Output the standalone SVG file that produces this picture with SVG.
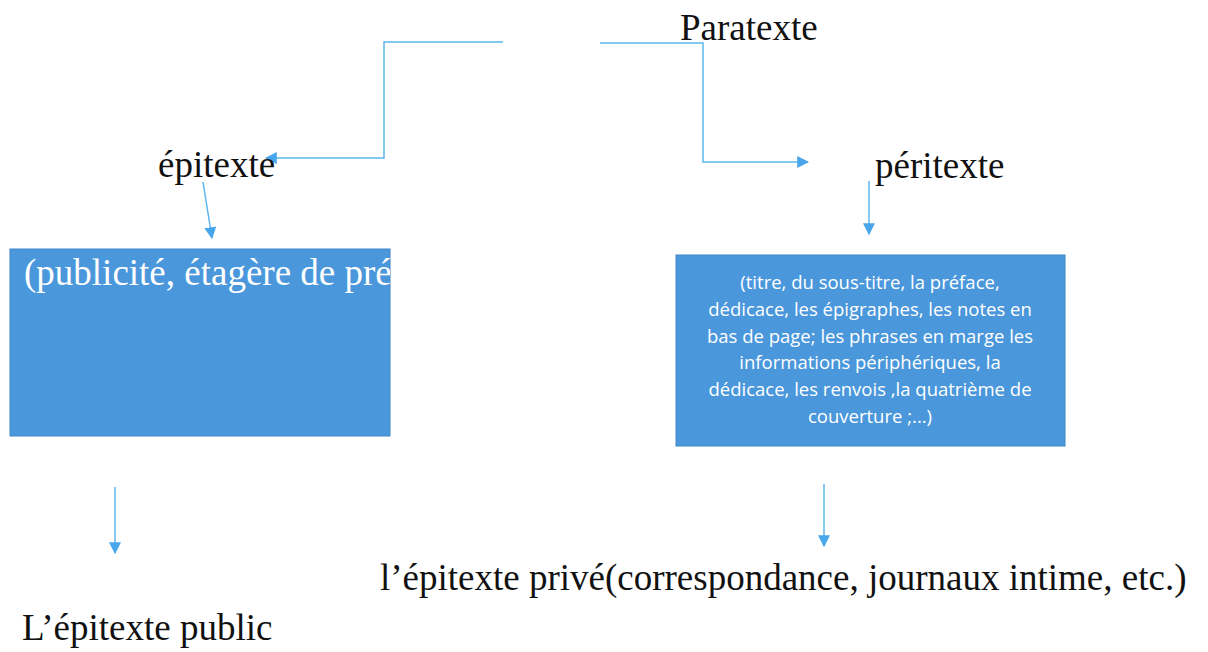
<svg xmlns="http://www.w3.org/2000/svg" width="1208" height="652" viewBox="0 0 1208 652">
<defs>
<style>
.t{font-family:"Liberation Serif","Times New Roman",serif;fill:#111;font-size:37px}
.w{font-family:"Liberation Serif","Times New Roman",serif;fill:#fff;font-size:37px}
.c{font-family:"Open Sans","Liberation Sans",sans-serif;fill:#fff;font-size:18.5px;text-anchor:middle}
.ln{fill:none;stroke:#5cb6ee;stroke-width:1.5}
.box{fill:#4a97db;stroke:#3f86c8;stroke-width:1}
</style>
<marker id="ah" viewBox="0 0 10 10" refX="9" refY="5" markerWidth="12" markerHeight="12" markerUnits="userSpaceOnUse" orient="auto">
<path d="M0,0 L10,5 L0,10 z" fill="#4aa6ea"/>
</marker>
<clipPath id="clipL"><rect x="10" y="249" width="380" height="187"/></clipPath>
</defs>
<rect width="1208" height="652" fill="#fff"/>
<g id="connectors">
<polyline class="ln" points="503,42 384,42 384,158 266,158" marker-end="url(#ah)"/>
<polyline class="ln" points="600,43 703,43 703,162 808,162" marker-end="url(#ah)"/>
<line class="ln" x1="203" y1="182" x2="212" y2="238" marker-end="url(#ah)"/>
<line class="ln" x1="869" y1="181" x2="869" y2="234" marker-end="url(#ah)"/>
<line class="ln" x1="115" y1="487" x2="115" y2="553" marker-end="url(#ah)"/>
<line class="ln" x1="824" y1="484" x2="824" y2="546" marker-end="url(#ah)"/>
</g>
<g id="paratexte"><text class="t" x="680" y="40">Paratexte</text></g>
<g id="epitexte"><text class="t" x="158" y="177">épitexte</text></g>
<g id="peritexte"><text class="t" x="875" y="178">péritexte</text></g>
<g id="box-left">
<rect class="box" x="10" y="249" width="380" height="187"/>
<text class="w" x="24" y="285" clip-path="url(#clipL)">(publicité, étagère de pré</text>
</g>
<g id="box-right">
<rect class="box" x="676" y="255" width="389" height="191"/>
<text class="c" x="870" y="289">(titre, du sous-titre, la préface,</text>
<text class="c" x="870" y="316">dédicace, les épigraphes, les notes en</text>
<text class="c" x="870" y="343">bas de page; les phrases en marge les</text>
<text class="c" x="870" y="369">informations  périphériques, la</text>
<text class="c" x="870" y="396">dédicace, les renvois ,la quatrième de</text>
<text class="c" x="870" y="423">couverture ;...)</text>
</g>
<g id="epitexte-public"><text class="t" x="22" y="640">L’épitexte public</text></g>
<g id="epitexte-prive"><text class="t" x="380" y="590">l’épitexte privé(correspondance, journaux intime, etc.)</text></g>
</svg>
